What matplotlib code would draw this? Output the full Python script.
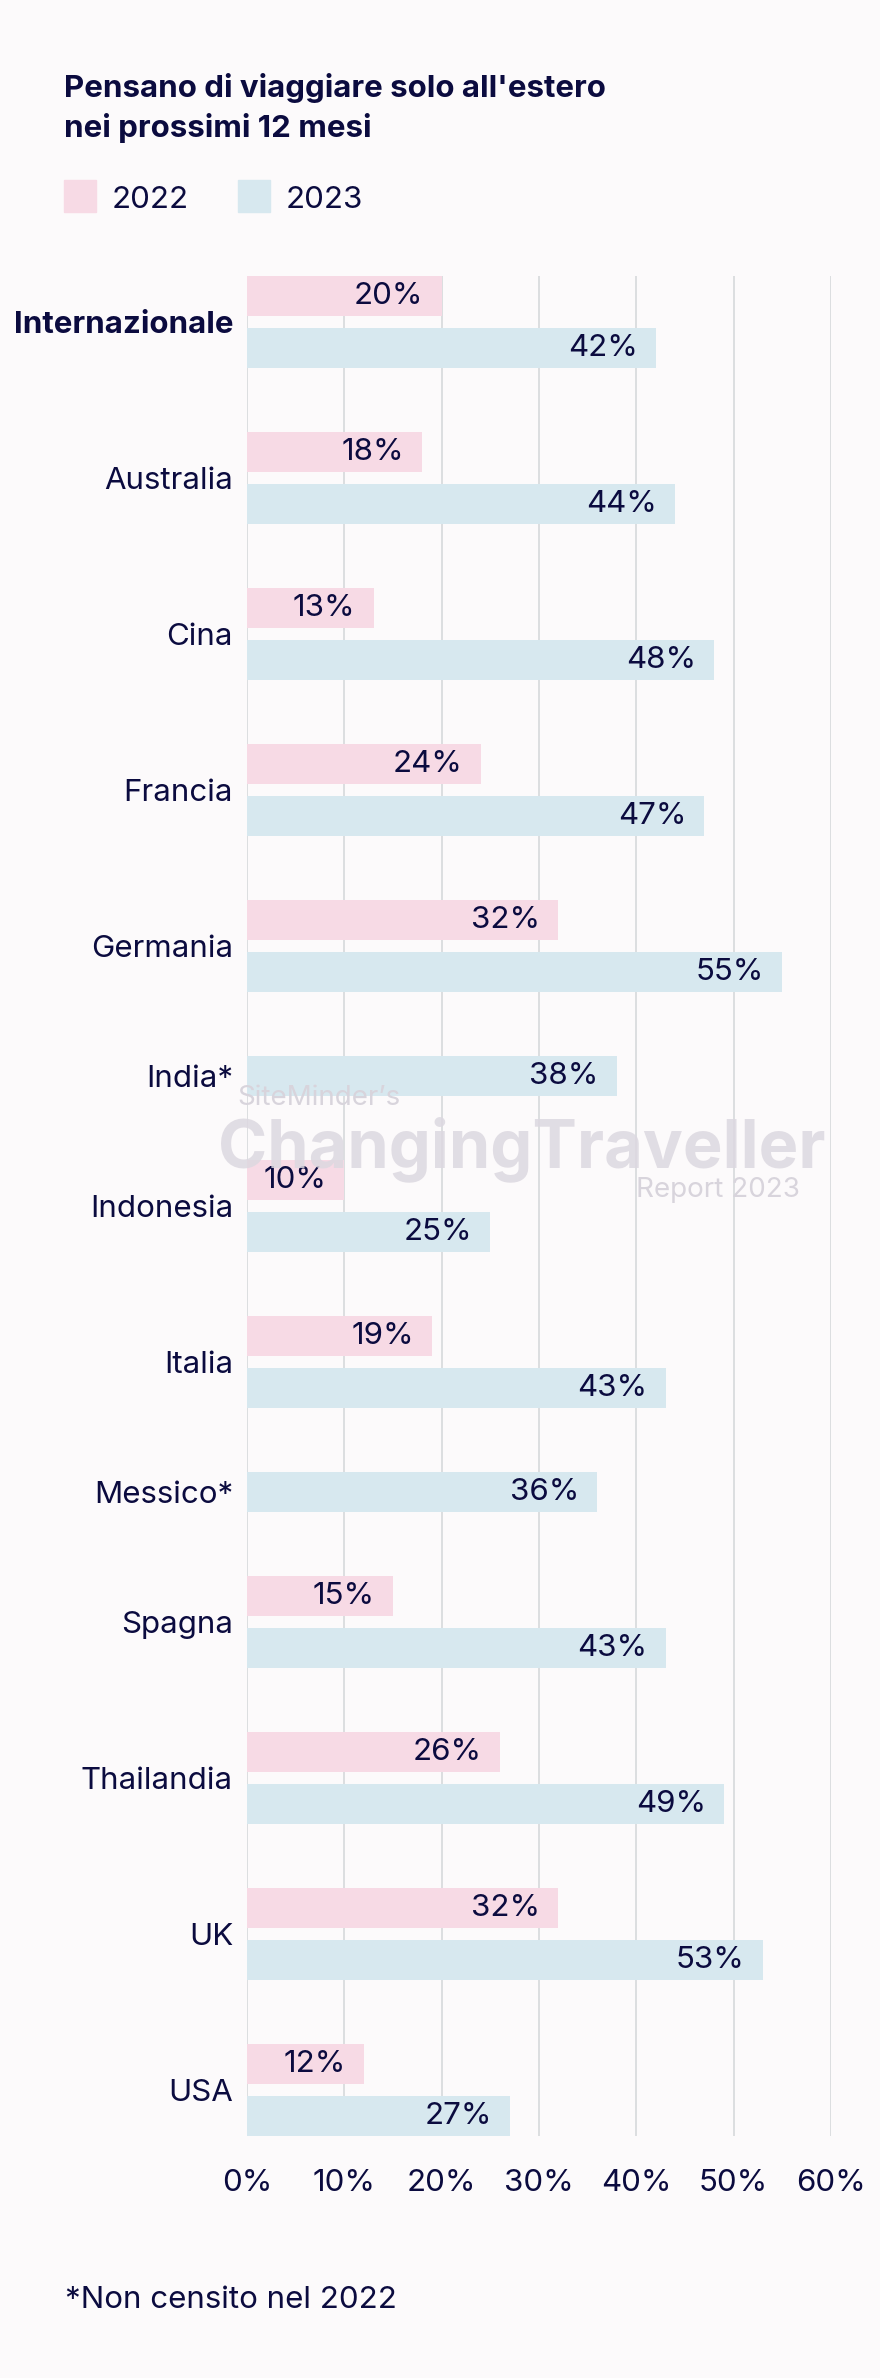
import numpy as np
import matplotlib
matplotlib.use("Agg")
import matplotlib.pyplot as plt
from matplotlib.patches import Rectangle

plt.rcParams['font.family'] = ['Inter', 'DejaVu Sans']

# data
categories = ['Internazionale', 'Australia', 'Cina', 'Francia', 'Germania', 'India*',
              'Indonesia', 'Italia', 'Messico*', 'Spagna', 'Thailandia', 'UK', 'USA']
val_2022 = [20, 18, 13, 24, 32, None, 10, 19, None, 15, 26, 32, 12]
val_2023 = [42, 44, 48, 47, 55, 38, 25, 43, 36, 43, 49, 53, 27]
years = ['2022', '2023']
xticks = [0, 10, 20, 30, 40, 50, 60]

# style
BG = '#FCFAFB'
NAVY = '#0B0B3F'
COLORS = {'2022': '#F7DAE5', '2023': '#D7E8EF'}
GRID = '#D9DCDE'
FS = 22.5
W, H = 880, 2378

def fx(x):
    return x / W

def fy(y):
    return 1 - y / H

fig = plt.figure(figsize=(W / 100, H / 100), dpi=100, facecolor=BG)

# axes in pixel box: x 247..831, y 276..2136
ax = fig.add_axes([fx(247), fy(2136), (831 - 247) / W, (2136 - 276) / H])
ax.set_facecolor(BG)

BAR_H, INNER, GROUP = 40, 12, 64
y = 0
label_pos = []
for i, cat in enumerate(categories):
    start = y
    present = [(yr, v) for yr, v in zip(years, (val_2022[i], val_2023[i])) if v is not None]
    for k, (yr, v) in enumerate(present):
        if k > 0:
            y += INNER
        c = y + BAR_H / 2
        ax.barh(c, v, height=BAR_H, color=COLORS[yr], zorder=2)
        ax.annotate(f"{v}%", xy=(v, c), xytext=(-13, 0), textcoords='offset points',
                    ha='right', va='center', fontsize=FS, color=NAVY, zorder=4)
        y += BAR_H
    label_pos.append((start + y) / 2)
    y += GROUP
total = y - GROUP

ax.set_ylim(total, 0)
ax.set_xlim(0, 60)
ax.set_yticks(label_pos)
ax.set_yticklabels(categories, fontsize=FS, color=NAVY)
ax.get_yticklabels()[0].set_fontweight('bold')
ax.set_xticks(xticks)
ax.set_xticklabels([f"{t}%" for t in xticks], fontsize=FS, color=NAVY)
ax.tick_params(axis='y', length=0, pad=10)
ax.tick_params(axis='x', length=0, pad=24)
ax.grid(axis='x', color=GRID, linewidth=1.3, zorder=0)
ax.set_axisbelow(True)
for s in ax.spines.values():
    s.set_visible(False)

# title
fig.text(fx(64), fy(97), "Pensano di viaggiare solo all'estero", fontsize=FS,
         fontweight='bold', color=NAVY, va='baseline', ha='left')
fig.text(fx(64), fy(137), "nei prossimi 12 mesi", fontsize=FS,
         fontweight='bold', color=NAVY, va='baseline', ha='left')

# legend
for x0, yr in [(64, '2022'), (238, '2023')]:
    fig.patches.append(Rectangle((fx(x0), fy(212)), 32 / W, 32 / H,
                                 transform=fig.transFigure, color=COLORS[yr]))
    fig.text(fx(x0 + 48), fy(208), yr, fontsize=FS, color=NAVY, va='baseline', ha='left')

# watermark
fig.text(fx(237), fy(1105), "SiteMinder\u2019s", fontsize=20, color='#D8D4DC',
         va='baseline', ha='left')
fig.text(fx(218), fy(1167), "ChangingTraveller", fontsize=48, fontweight='bold',
         color='#DCD8E0', alpha=0.85, va='baseline', ha='left')
fig.text(fx(800), fy(1197), "Report 2023", fontsize=20, color='#D8D4DC',
         va='baseline', ha='right')

# footnote
fig.text(fx(65), fy(2308), "*Non censito nel 2022", fontsize=FS, color=NAVY,
         va='baseline', ha='left')

fig.savefig('out.png', dpi=100, facecolor=BG)
